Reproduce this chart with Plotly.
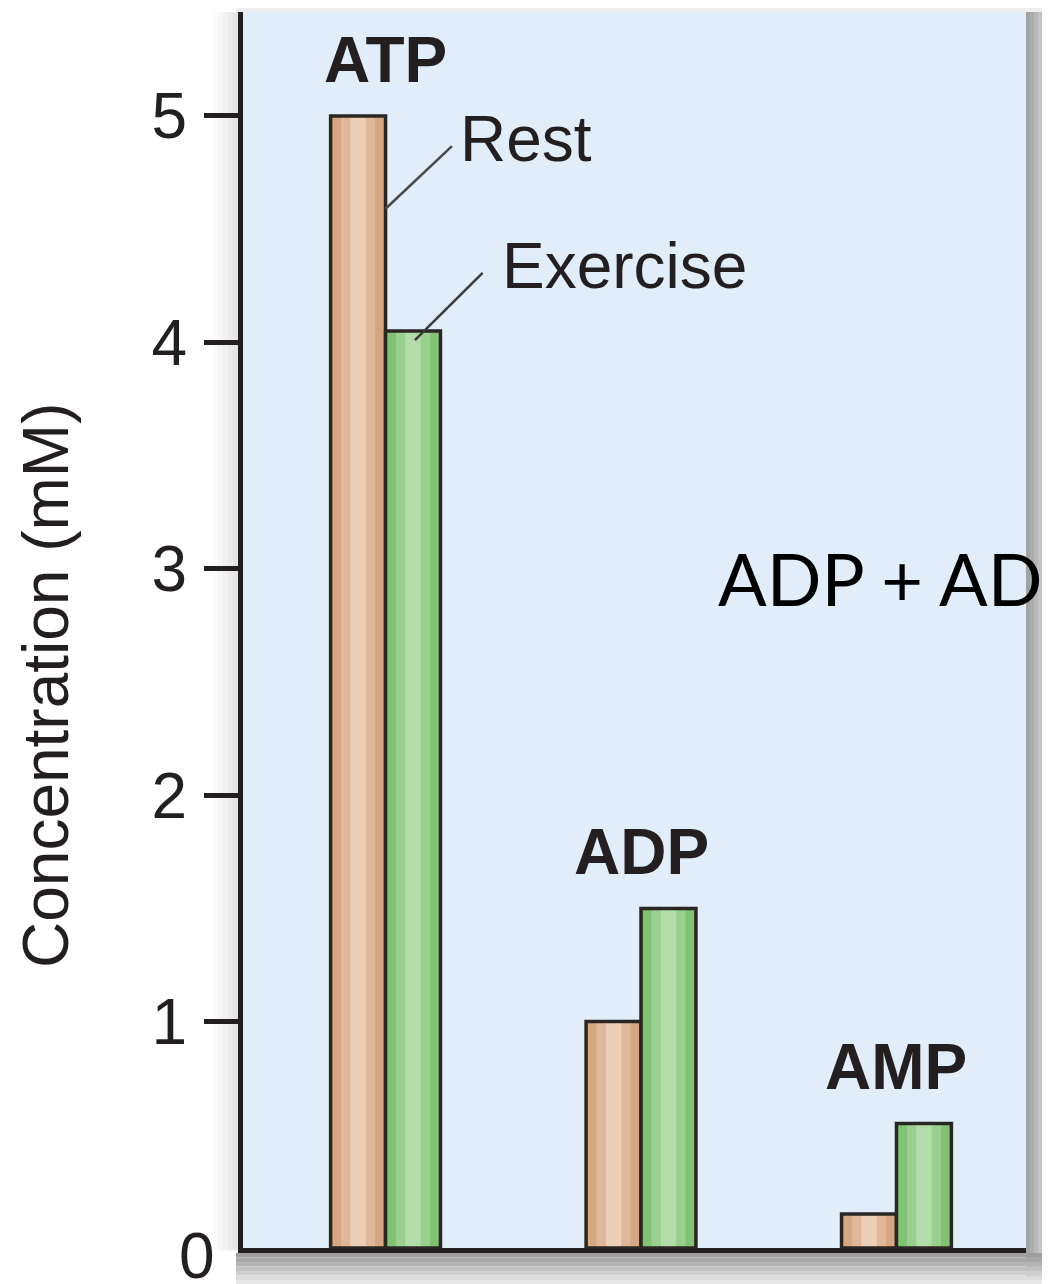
import plotly.graph_objects as go

# ---- data ----
categories = ["ATP", "ADP", "AMP"]
rest_values = [5.0, 1.0, 0.15]
exercise_values = [4.05, 1.5, 0.55]
series_names = ["Rest", "Exercise"]
y_tick_values = [1, 2, 3, 4, 5]
y_tick_labels = ["1", "2", "3", "4", "5"]
y_title = "Concentration (mM)"
side_text = "ADP + AD"

# ---- geometry / style ----
# the page body adds an 8px margin, so the figure is drawn 8px in from the window corner
OFF = 8
W_FIG, H_FIG = 1050 - OFF, 1284 - OFF
L, R, T, B = 243 - OFF, 24, 12 - OFF, 36
PW, PH = W_FIG - L - R, H_FIG - T - B
BAR_W = 0.215
xs = list(range(len(categories)))
INK = "#231f20"
FONT = "Liberation Sans, Arial, sans-serif"


def px(x):  # window pixel -> paper
    return (x - OFF - L) / PW


def py(y):  # window pixel -> paper
    return (H_FIG + OFF - B - y) / PH


fig = go.Figure()

rest_layers = [("#d7a781", 1.0), ("#e0b899", 0.62), ("#ebcfb8", 0.28)]
ex_layers = [("#80c373", 1.0), ("#9ad08e", 0.62), ("#b4dcaa", 0.28)]


def add_series(values, layers, side, name):
    center = side * BAR_W / 2
    for color, frac in layers:
        w = BAR_W * frac
        fig.add_trace(go.Bar(
            x=xs, y=values, width=[w] * len(xs), offset=center - w / 2,
            marker=dict(color=color, line=dict(width=0)),
            name=name, showlegend=False, hoverinfo="skip"))
    fig.add_trace(go.Bar(
        x=xs, y=values, width=[BAR_W] * len(xs), offset=center - BAR_W / 2,
        marker=dict(color="rgba(0,0,0,0)", line=dict(color="#2a2624", width=3.5)),
        name=name, showlegend=False))


add_series(rest_values, rest_layers, -1, series_names[0])
add_series(exercise_values, ex_layers, 1, series_names[1])

annotations = []
# compound labels above each group
for i, c in enumerate(categories):
    annotations.append(dict(
        x=i, y=max(rest_values[i], exercise_values[i]), xref="x", yref="y",
        text="<b>%s</b>" % c, showarrow=False, xanchor="center", yanchor="bottom",
        yshift=18, font=dict(family=FONT, size=64, color=INK)))

# series labels with leader lines
annotations.append(dict(x=0.284, y=4.898, xref="x", yref="y", text=series_names[0],
                        showarrow=False, xanchor="left", yanchor="middle",
                        font=dict(family=FONT, size=64, color=INK)))
annotations.append(dict(x=0.448, y=4.337, xref="x", yref="y", text=series_names[1],
                        showarrow=False, xanchor="left", yanchor="middle",
                        font=dict(family=FONT, size=64, color=INK)))

# zero label (sits below the axis in the original)
annotations.append(dict(x=px(197), y=py(1256), xref="paper", yref="paper", text="0",
                        showarrow=False, xanchor="center", yanchor="middle",
                        font=dict(family=FONT, size=64, color=INK)))

# y-axis title (placed lower than the plot centre, as in the original)
annotations.append(dict(x=px(46), y=py(685), xref="paper", yref="paper", text=y_title,
                        textangle=-90, showarrow=False, xanchor="center", yanchor="middle",
                        font=dict(family=FONT, size=64, color=INK)))

# overlaid text
annotations.append(dict(x=px(716), y=py(578), xref="paper", yref="paper", text=side_text,
                        showarrow=False, xanchor="left", yanchor="middle",
                        font=dict(family="Lato, Open Sans, sans-serif", size=72, color="#000000")))

shapes = [
    dict(type="line", xref="x", yref="y", x0=0.0, y0=4.59, x1=0.26, y1=4.867,
         line=dict(color="#4a4a4a", width=2.5)),
    dict(type="line", xref="x", yref="y", x0=0.115, y0=4.01, x1=0.38, y1=4.307,
         line=dict(color="#3a3a3a", width=2.5)),
]

# soft shadows around the panel
right_cols = ["#a3a3a3", "#adadad", "#b8b8b8", "#c4c4c4", "#d0d0d0", "#dcdcdc"]
for k, col in enumerate(right_cols):
    x0 = 1026 + k * 4
    shapes.append(dict(type="rect", xref="paper", yref="paper", layer="below",
                       x0=px(x0), x1=px(x0 + 4), y0=py(1284), y1=py(8),
                       line=dict(width=0), fillcolor=col))
bottom_cols = ["#9e9e9e", "#a8a8a8", "#b4b4b4", "#c2c2c2", "#cfcfcf", "#dcdcdc", "#e8e8e8"]
for k, col in enumerate(bottom_cols):
    y0 = 1253 + k * 4.5
    shapes.append(dict(type="rect", xref="paper", yref="paper", layer="below",
                       x0=px(236), x1=px(1050), y0=py(y0 + 4.5), y1=py(y0),
                       line=dict(width=0), fillcolor=col))
left_cols = ["#fbfbfb", "#f6f6f6", "#f1f1f1", "#ebebeb", "#e5e5e5"]
for k, col in enumerate(left_cols):
    x0 = 213 + k * 5
    shapes.append(dict(type="rect", xref="paper", yref="paper", layer="below",
                       x0=px(x0), x1=px(x0 + 5), y0=py(1250), y1=py(12),
                       line=dict(width=0), fillcolor=col))
shapes.append(dict(type="rect", xref="paper", yref="paper", layer="below",
                   x0=px(236), x1=px(1050), y0=py(12), y1=py(8),
                   line=dict(width=0), fillcolor="#eeeeee"))

fig.update_layout(
    width=W_FIG, height=H_FIG,
    margin=dict(l=L, r=R, t=T, b=B, pad=0),
    paper_bgcolor="white", plot_bgcolor="#e1edf8",
    barmode="overlay", showlegend=False,
    font=dict(family=FONT, color=INK),
    annotations=annotations, shapes=shapes,
    xaxis=dict(range=[-0.558, 2.507], showticklabels=False, ticks="",
               showgrid=False, zeroline=False, showline=True,
               linecolor=INK, linewidth=5, fixedrange=True),
    yaxis=dict(range=[0, 5.459], tickvals=y_tick_values, ticktext=y_tick_labels,
               ticks="outside", ticklen=34, tickwidth=5, tickcolor=INK,
               ticklabelstandoff=4,
               tickfont=dict(family=FONT, size=64, color=INK),
               showgrid=False, zeroline=False, showline=True,
               linecolor=INK, linewidth=5, automargin=False),
)

fig.write_html("out.html")
